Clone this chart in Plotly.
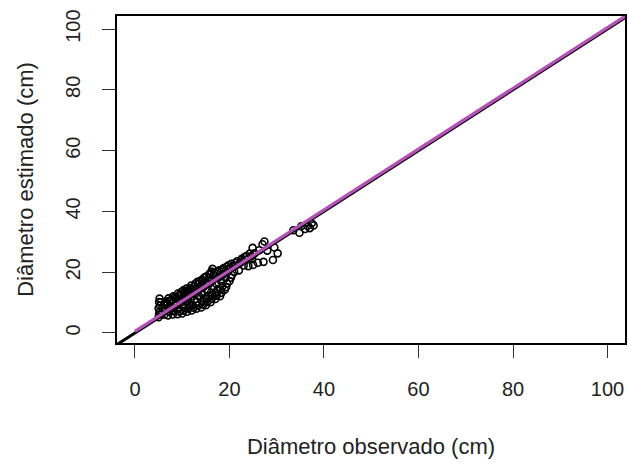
import plotly.graph_objects as go

# Observed diameter (cm)
obs = [
    5.0, 5.1, 5.2, 5.0, 5.3, 5.1, 5.2,
    5.6, 5.8, 5.5,
    6.2, 6.4, 6.1, 6.6,
    7.0, 7.2, 7.4, 6.9, 7.6, 7.1,
    8.0, 8.3, 7.9, 8.5, 8.2, 8.7, 8.1,
    9.0, 9.4, 9.2, 8.9, 9.6, 9.3, 9.8, 9.1,
    10.0, 10.3, 10.5, 10.1, 10.7, 9.9, 10.4, 10.8, 10.2,
    11.0, 11.3, 11.5, 11.1, 11.7, 11.2, 11.4, 11.8,
    12.0, 12.4, 12.2, 12.6, 11.9, 12.3, 12.7, 12.5,
    13.0, 13.3, 13.1, 13.6, 13.2, 13.5, 13.8, 13.4,
    14.0, 14.4, 14.2, 14.6, 14.1, 14.5, 14.8, 14.3,
    15.0, 15.3, 15.1, 15.5, 15.2, 15.6, 15.4, 15.8, 15.7,
    16.0, 16.2, 16.4, 16.1, 16.5, 16.3, 16.6, 16.2, 16.4,
    17.0, 17.3, 17.1, 17.5, 17.2, 17.6,
    18.0, 18.3, 18.1, 18.5, 18.2, 18.6,
    19.0, 19.3, 19.5, 19.2, 19.6,
    20.0, 20.3, 20.5, 20.2, 20.7,
    21.0, 21.4, 21.2,
    22.0, 22.3, 22.5,
    23.0, 23.4, 23.2,
    24.0, 24.6, 24.3,
    25.0, 24.8, 25.3, 24.9,
    26.0, 26.3,
    27.2, 27.0, 27.4,
    28.0,
    29.2, 29.5,
    30.2,
    33.5,
    34.8, 35.2,
    36.0, 36.5,
    37.0, 37.4,
    37.8,
    6.5, 7.3, 7.8, 8.4, 8.8, 9.5, 9.7, 10.6, 10.9, 11.6,
    11.9, 12.8, 13.2, 13.7, 14.2, 14.7, 15.1, 15.9, 16.8, 17.4,
    17.8, 18.4, 18.8, 19.4, 19.8, 20.4, 21.6, 22.6, 23.6,
]

# Estimated diameter (cm)
est = [
    5.2, 6.1, 7.0, 8.1, 9.0, 10.2, 11.3,
    6.3, 8.4, 10.1,
    6.0, 7.4, 9.2, 10.3,
    5.8, 7.0, 8.2, 9.4, 10.5, 11.4,
    6.1, 7.2, 8.3, 9.1, 10.2, 11.3, 12.1,
    6.2, 7.1, 8.0, 9.3, 10.1, 11.2, 12.3, 13.0,
    6.4, 7.3, 8.2, 9.1, 10.4, 11.2, 12.3, 13.1, 14.0,
    7.0, 8.1, 9.2, 10.3, 11.1, 12.2, 13.4, 14.3,
    7.4, 8.3, 9.2, 11.0, 12.1, 13.2, 14.4, 15.2,
    8.0, 9.1, 10.2, 12.0, 13.3, 14.1, 15.2, 16.1,
    8.4, 9.3, 10.4, 11.3, 13.2, 15.1, 16.3, 17.2,
    9.1, 10.2, 11.3, 12.2, 14.1, 16.0, 17.2, 18.1, 19.3,
    10.1, 11.2, 12.4, 13.3, 15.2, 17.1, 19.0, 20.2, 21.1,
    11.2, 12.3, 13.1, 14.4, 16.2, 18.1,
    12.1, 13.2, 14.3, 15.4, 17.1, 19.2,
    14.2, 15.1, 16.3, 18.2, 20.1,
    17.1, 18.2, 19.1, 21.3, 22.0,
    20.1, 22.2, 23.0,
    20.6, 23.1, 24.0,
    22.2, 24.1, 25.0,
    22.0, 25.2, 26.1,
    22.4, 24.3, 26.2, 28.0,
    23.1, 27.2,
    23.4, 29.2, 30.1,
    27.1,
    24.0, 28.1,
    26.2,
    33.8,
    33.0, 35.1,
    34.2, 35.3,
    34.5, 36.1,
    35.4,
    9.8, 10.6, 11.0, 11.8, 11.6, 12.6, 13.4, 13.6, 14.6, 14.8,
    15.6, 16.3, 16.8, 17.0, 17.6, 18.2, 18.6, 19.6, 19.8, 20.1,
    20.6, 20.9, 21.4, 21.8, 22.3, 22.8, 23.6, 24.4, 25.3,
]

tick_vals = [0, 20, 40, 60, 80, 100]
tick_text = ["0", "20", "40", "60", "80", "100"]

# 1:1 reference line and fitted line (intercept, slope)
ref_x = [-10, 110]
ref_line = [0.0, 1.0]
fit_x = [0, 110]
fit_line = [0.5, 1.0]

FONT = "Liberation Sans, Arial, sans-serif"

fig = go.Figure()
fig.add_trace(go.Scatter(
    x=obs, y=est, mode="markers",
    marker=dict(symbol="circle-open", size=7, color="black", line=dict(width=1.6)),
    showlegend=False, hoverinfo="skip",
))
fig.add_trace(go.Scatter(
    x=ref_x, y=[ref_line[0] + ref_line[1] * v for v in ref_x], mode="lines",
    line=dict(color="black", width=3), showlegend=False, hoverinfo="skip",
))
fig.add_trace(go.Scatter(
    x=fit_x, y=[fit_line[0] + fit_line[1] * v for v in fit_x], mode="lines",
    line=dict(color="#B450B8", width=3.2), showlegend=False, hoverinfo="skip",
))

axis_common = dict(
    showgrid=False, zeroline=False,
    showline=True, linecolor="black", linewidth=1.5, mirror=True,
    ticks="outside", ticklen=13, tickwidth=1.2, tickcolor="#333333",
    tickfont=dict(family=FONT, size=20, color="#222222"),
    tickvals=tick_vals, ticktext=tick_text,
)

fig.update_layout(
    width=629, height=466,
    margin=dict(l=117, r=2, t=16, b=123),
    paper_bgcolor="white", plot_bgcolor="white",
    xaxis=dict(range=[-3.8, 103.7], ticklabelstandoff=14,
               title=dict(text="Diâmetro observado (cm)", standoff=40,
                          font=dict(family=FONT, size=22, color="#222222")),
               **axis_common),
    yaxis=dict(range=[-3.3, 104.3], tickangle=-90, ticklabelstandoff=14,
               title=dict(text="Diâmetro estimado (cm)", standoff=23,
                          font=dict(family=FONT, size=22, color="#222222")),
               **axis_common),
)

fig.write_html("out.html")
